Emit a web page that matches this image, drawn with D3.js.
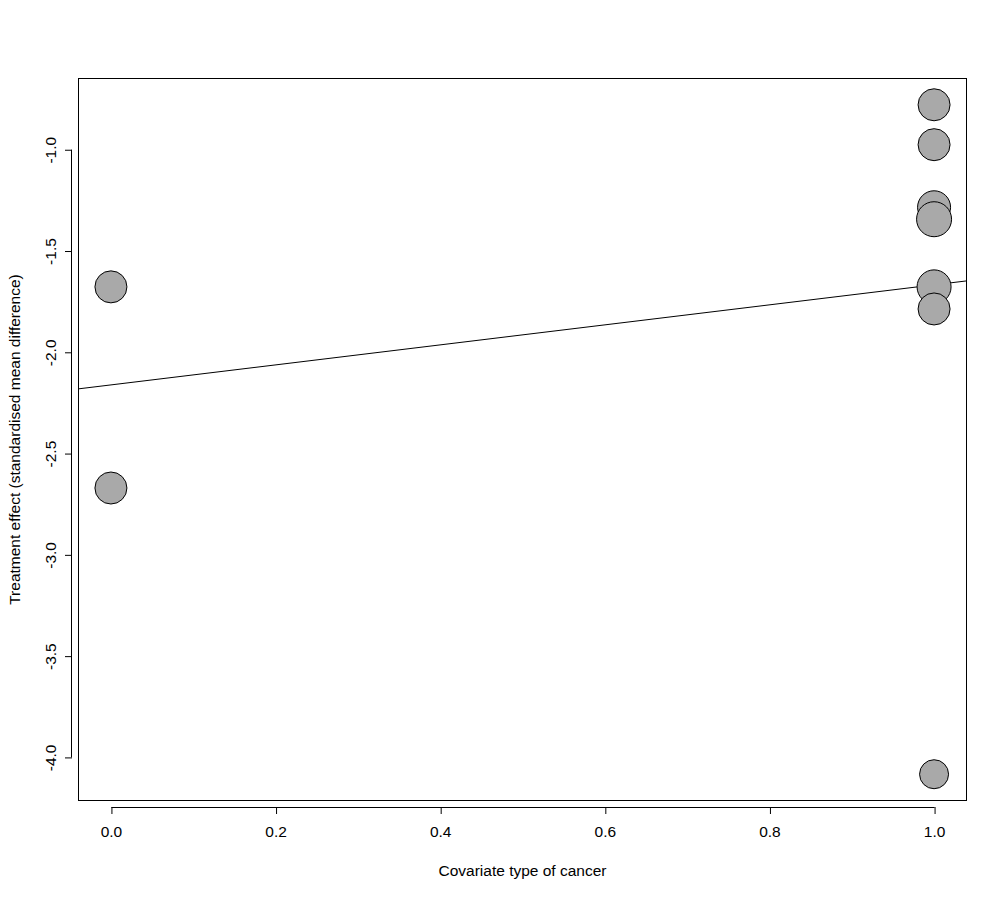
<!DOCTYPE html>
<html><head><meta charset="utf-8">
<script src="https://cdn.jsdelivr.net/npm/d3@7"></script>
<style>body{margin:0;background:#fff}svg{display:block}</style>
</head><body><svg id="c" width="1008" height="900"></svg>
<script>
const covariate = [0, 0, 1, 1, 1, 1, 1, 1, 1];
const effect = [-1.677, -2.67, -0.778, -0.975, -1.284, -1.343, -1.677, -1.786, -4.083];
const weights = [16, 16, 16, 16, 16.5, 17.5, 17, 16, 14.5];
const xTicks = [0, 0.2, 0.4, 0.6, 0.8, 1.0];
const yTicks = [-1.0, -1.5, -2.0, -2.5, -3.0, -3.5, -4.0];
const intercept = -2.161, slope = 0.494;
const xTitle = "Covariate type of cancer";
const yTitle = "Treatment effect (standardised mean difference)";

const FONT = "Liberation Sans, Arial, sans-serif";
const FS = "15.5px";
const svg = d3.select("#c");
const L = 78, R = 967, T = 78, B = 801;
const xs = d3.scaleLinear().domain([-0.04, 1.04]).range([L, R]);
const ys = d3.scaleLinear().domain([-0.6458, -4.2152]).range([T, B]);
const rs = d3.scaleLinear().domain([0, 1]).range([0, 1]);
const fmt = d => d3.format(".1f")(d).replace("−", "-");

svg.append("clipPath").attr("id","pc").append("rect")
  .attr("x", L).attr("y", T).attr("width", R-L).attr("height", B-T);

// regression line
svg.append("line").attr("clip-path","url(#pc)")
  .attr("x1", xs(-0.04)).attr("y1", ys(intercept + slope*(-0.04)))
  .attr("x2", xs(1.04)).attr("y2", ys(intercept + slope*1.04))
  .attr("stroke","#000").attr("stroke-width",1);

// points
svg.append("g").selectAll("circle").data(effect).join("circle")
  .attr("cx", (d,i)=>xs(covariate[i])).attr("cy", d=>ys(d))
  .attr("r", (d,i)=>rs(weights[i]))
  .attr("fill","#a9a9a9").attr("stroke","#000").attr("stroke-width",1);

// box
svg.append("rect").attr("x",L+0.5).attr("y",T+0.5).attr("width",R-L-1).attr("height",B-T-1)
  .attr("fill","none").attr("stroke","#000").attr("stroke-width",1);

// x axis
const xa = svg.append("g").attr("transform",`translate(0,${B+6})`)
  .call(d3.axisBottom(xs).tickValues(xTicks).tickFormat(fmt).tickSize(7).tickSizeOuter(0));
xa.select(".domain").attr("d",`M${xs(0)+0.5},0.5H${xs(1)+0.5}`);
xa.selectAll(".tick line").attr("transform","translate(0.5,0)");
xa.selectAll("text").attr("font-size",FS).attr("font-family",FONT).attr("fill","#000")
  .attr("y",30).attr("dy",null);

// y axis
const ya = svg.append("g").attr("transform",`translate(${L-6},0)`)
  .call(d3.axisLeft(ys).tickValues(yTicks).tickFormat(fmt).tickSize(7).tickSizeOuter(0));
ya.select(".domain").attr("d",`M-0.5,${ys(-1.0)}V${ys(-4.0)}`);
ya.selectAll("text").attr("font-size",FS).attr("font-family",FONT).attr("fill","#000")
  .attr("x",null).attr("dy",null).attr("text-anchor","middle")
  .attr("transform","translate(-16,0) rotate(-90)");

svg.append("text").attr("x",(L+R)/2).attr("y",876).attr("text-anchor","middle")
  .attr("font-size",FS).attr("font-family",FONT).text(xTitle);
svg.append("text").attr("transform",`translate(20,${(T+B)/2}) rotate(-90)`).attr("text-anchor","middle")
  .attr("font-size",FS).attr("font-family",FONT).text(yTitle);
</script></body></html>
